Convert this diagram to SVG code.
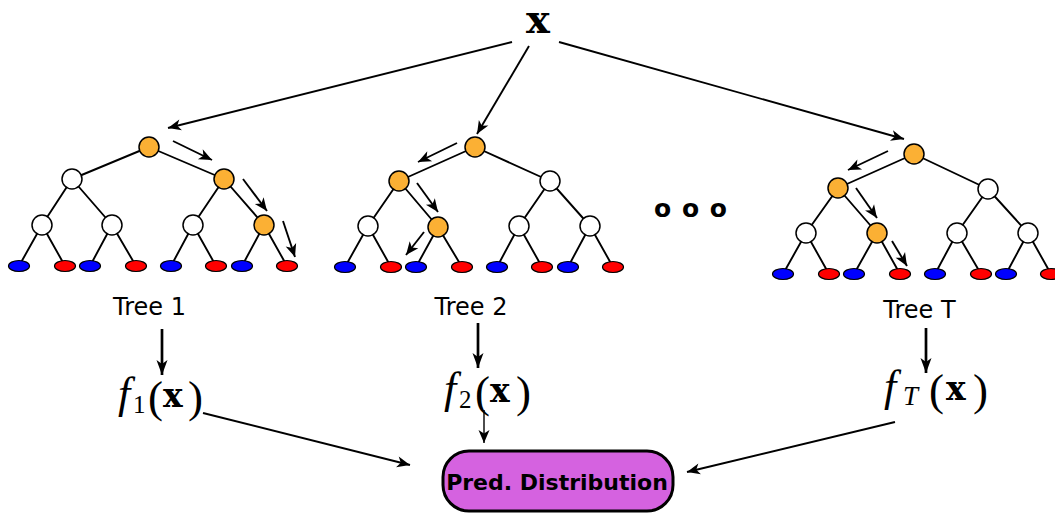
<svg xmlns="http://www.w3.org/2000/svg" width="1055" height="513" viewBox="0 0 1055 513">
<style>
.e{stroke:#000;stroke-width:1.9;fill:none}
.w{fill:#fff;stroke:#000;stroke-width:1.5}
.o{fill:#fbb034;stroke:#000;stroke-width:1.5}
.b{fill:#0000ff;stroke:#000;stroke-width:1.2}
.r{fill:#ff0000;stroke:#000;stroke-width:1.2}
.a{stroke:#000;stroke-width:1.9;fill:none;marker-end:url(#ah)}
.ad{stroke:#000;stroke-width:2.7;fill:none;marker-end:url(#ahd)}
.lbl{font-family:"DejaVu Sans",sans-serif;font-size:24px;fill:#000;text-anchor:middle}
.fi{font-family:"Liberation Serif",serif;font-style:italic;font-size:44px}
.sub{font-family:"Liberation Serif",serif;font-size:25px}
.sube{font-family:"Liberation Serif",serif;font-style:italic;font-size:27px}
.par{font-family:"Liberation Serif",serif;font-size:45px}
.bx{font-family:"DejaVu Serif",serif;font-weight:bold;font-size:33px}
</style>
<defs>
<marker id="ah" viewBox="-14 -6 16 12" refX="0" refY="0" markerWidth="16" markerHeight="12" markerUnits="userSpaceOnUse" orient="auto">
<path d="M0,0 L-13,-5.5 L-9.5,0 L-13,5.5 Z" fill="#000"/>
</marker>
<marker id="ahd" viewBox="-16 -7 18 14" refX="0" refY="0" markerWidth="18" markerHeight="14" markerUnits="userSpaceOnUse" orient="auto">
<path d="M0,0 L-15,-5.5 L-11,0 L-15,5.5 Z" fill="#000"/>
</marker>
</defs>
<g id="connectors">
<line class="a" x1="512" y1="42" x2="168" y2="128"/>
<line class="a" x1="529" y1="46" x2="477" y2="134"/>
<line class="a" x1="559" y1="42" x2="904" y2="139"/>
<line class="a" x1="173" y1="141" x2="212" y2="160"/>
<line class="a" x1="243" y1="179" x2="267" y2="211"/>
<line class="a" x1="283" y1="221" x2="295" y2="257"/>
<line class="a" x1="457" y1="143" x2="418" y2="162"/>
<line class="a" x1="417" y1="183" x2="438" y2="212"/>
<line class="a" x1="424" y1="232" x2="406" y2="255"/>
<line class="a" x1="888" y1="151" x2="848" y2="170"/>
<line class="a" x1="856" y1="188" x2="877" y2="218"/>
<line class="a" x1="892" y1="241" x2="907" y2="266"/>
<line class="ad" x1="162" y1="329" x2="162" y2="375"/>
<line class="ad" x1="478" y1="323" x2="478" y2="368"/>
<line class="ad" x1="926" y1="328" x2="926" y2="373"/>
<line class="a" x1="203" y1="413" x2="410" y2="465"/>
<line class="a" style="stroke-width:1.4" x1="484" y1="410" x2="484" y2="443"/>
<line class="a" x1="895" y1="422" x2="687" y2="472"/>
</g>
<g id="x-input"><text x="538" y="33" class="bx" style="font-size:40px" text-anchor="middle">x</text></g>
<g id="tree1">
<path class="e" d="M149,147 L72,179 M149,147 L224,179 M72,179 L42,225 M72,179 L112,225 M224,179 L193,225 M224,179 L264,225 M42,225 L19,266 M42,225 L65,266 M112,225 L90,266 M112,225 L136,266 M193,225 L171,266 M193,225 L216,266 M264,225 L242,266 M264,225 L287,266"/>
<circle class="o" cx="149" cy="147" r="10"/>
<circle class="w" cx="72" cy="179" r="10"/><circle class="o" cx="224" cy="179" r="10"/>
<circle class="w" cx="42" cy="225" r="10"/><circle class="w" cx="112" cy="225" r="10"/><circle class="w" cx="193" cy="225" r="10"/><circle class="o" cx="264" cy="225" r="10"/>
<ellipse class="b" cx="19" cy="266" rx="10.5" ry="5.5"/><ellipse class="r" cx="65" cy="266" rx="10.5" ry="5.5"/>
<ellipse class="b" cx="90" cy="266" rx="10.5" ry="5.5"/><ellipse class="r" cx="136" cy="266" rx="10.5" ry="5.5"/>
<ellipse class="b" cx="171" cy="266" rx="10.5" ry="5.5"/><ellipse class="r" cx="216" cy="266" rx="10.5" ry="5.5"/>
<ellipse class="b" cx="242" cy="266" rx="10.5" ry="5.5"/><ellipse class="r" cx="287" cy="266" rx="10.5" ry="5.5"/>
<text class="lbl" x="149.5" y="315">Tree 1</text>
</g>
<g id="tree2">
<path class="e" d="M475,147 L399,181 M475,147 L550,181 M399,181 L368,226 M399,181 L438,227 M550,181 L519,226 M550,181 L590,226 M368,226 L345,267 M368,226 L391,267 M438,227 L416,267 M438,227 L462,267 M519,226 L497,267 M519,226 L542,267 M590,226 L568,267 M590,226 L613,267"/>
<circle class="o" cx="475" cy="147" r="10"/>
<circle class="o" cx="399" cy="181" r="10"/><circle class="w" cx="550" cy="181" r="10"/>
<circle class="w" cx="368" cy="226" r="10"/><circle class="o" cx="438" cy="227" r="10"/><circle class="w" cx="519" cy="226" r="10"/><circle class="w" cx="590" cy="226" r="10"/>
<ellipse class="b" cx="345" cy="267" rx="10.5" ry="5.5"/><ellipse class="r" cx="391" cy="267" rx="10.5" ry="5.5"/>
<ellipse class="b" cx="416" cy="267" rx="10.5" ry="5.5"/><ellipse class="r" cx="462" cy="267" rx="10.5" ry="5.5"/>
<ellipse class="b" cx="497" cy="267" rx="10.5" ry="5.5"/><ellipse class="r" cx="542" cy="267" rx="10.5" ry="5.5"/>
<ellipse class="b" cx="568" cy="267" rx="10.5" ry="5.5"/><ellipse class="r" cx="613" cy="267" rx="10.5" ry="5.5"/>
<text class="lbl" x="471" y="315">Tree 2</text>
</g>
<g id="treeT">
<path class="e" d="M914,154 L838,188 M914,154 L988,189 M838,188 L806,233 M838,188 L877,233 M988,189 L957,233 M988,189 L1028,233 M806,233 L783,274 M806,233 L829,274 M877,233 L854,274 M877,233 L900,274 M957,233 L935,274 M957,233 L981,274 M1028,233 L1006,274 M1028,233 L1051,274"/>
<circle class="o" cx="914" cy="154" r="10"/>
<circle class="o" cx="838" cy="188" r="10"/><circle class="w" cx="988" cy="189" r="10"/>
<circle class="w" cx="806" cy="233" r="10"/><circle class="o" cx="877" cy="233" r="10"/><circle class="w" cx="957" cy="233" r="10"/><circle class="w" cx="1028" cy="233" r="10"/>
<ellipse class="b" cx="783" cy="274" rx="10.5" ry="5.5"/><ellipse class="r" cx="829" cy="274" rx="10.5" ry="5.5"/>
<ellipse class="b" cx="854" cy="274" rx="10.5" ry="5.5"/><ellipse class="r" cx="900" cy="274" rx="10.5" ry="5.5"/>
<ellipse class="b" cx="935" cy="274" rx="10.5" ry="5.5"/><ellipse class="r" cx="981" cy="274" rx="10.5" ry="5.5"/>
<ellipse class="b" cx="1006" cy="274" rx="10.5" ry="5.5"/><ellipse class="r" cx="1051" cy="274" rx="10.5" ry="5.5"/>
<text class="lbl" x="919.5" y="318">Tree T</text>
</g>
<g id="dots"><text x="691" y="217" font-family="DejaVu Sans, sans-serif" font-weight="bold" font-size="25" letter-spacing="1" text-anchor="middle">o o o</text></g>
<g id="f1">
<text y="408"><tspan class="fi" x="118">f</tspan><tspan class="sub" x="133" y="413">1</tspan><tspan class="par" x="148" y="412">(</tspan><tspan class="bx" x="163" y="407">x</tspan><tspan class="par" x="188" y="412">)</tspan></text>
</g>
<g id="f2">
<text y="403"><tspan class="fi" x="444">f</tspan><tspan class="sub" x="459" y="408">2</tspan><tspan class="par" x="475" y="407">(</tspan><tspan class="bx" x="490" y="402">x</tspan><tspan class="par" x="516" y="407">)</tspan></text>
</g>
<g id="fT">
<text y="401"><tspan class="fi" x="884">f</tspan><tspan class="sube" x="903" y="405">T</tspan><tspan class="par" x="929" y="405">(</tspan><tspan class="bx" x="946" y="400">x</tspan><tspan class="par" x="973" y="405">)</tspan></text>
</g>
<g id="pred">
<rect x="443" y="451" width="230" height="60" rx="26" ry="26" fill="#d562e0" stroke="#000" stroke-width="3"/>
<text x="557" y="490" font-family="DejaVu Sans, sans-serif" font-weight="bold" font-size="22" text-anchor="middle">Pred. Distribution</text>
</g>
</svg>
